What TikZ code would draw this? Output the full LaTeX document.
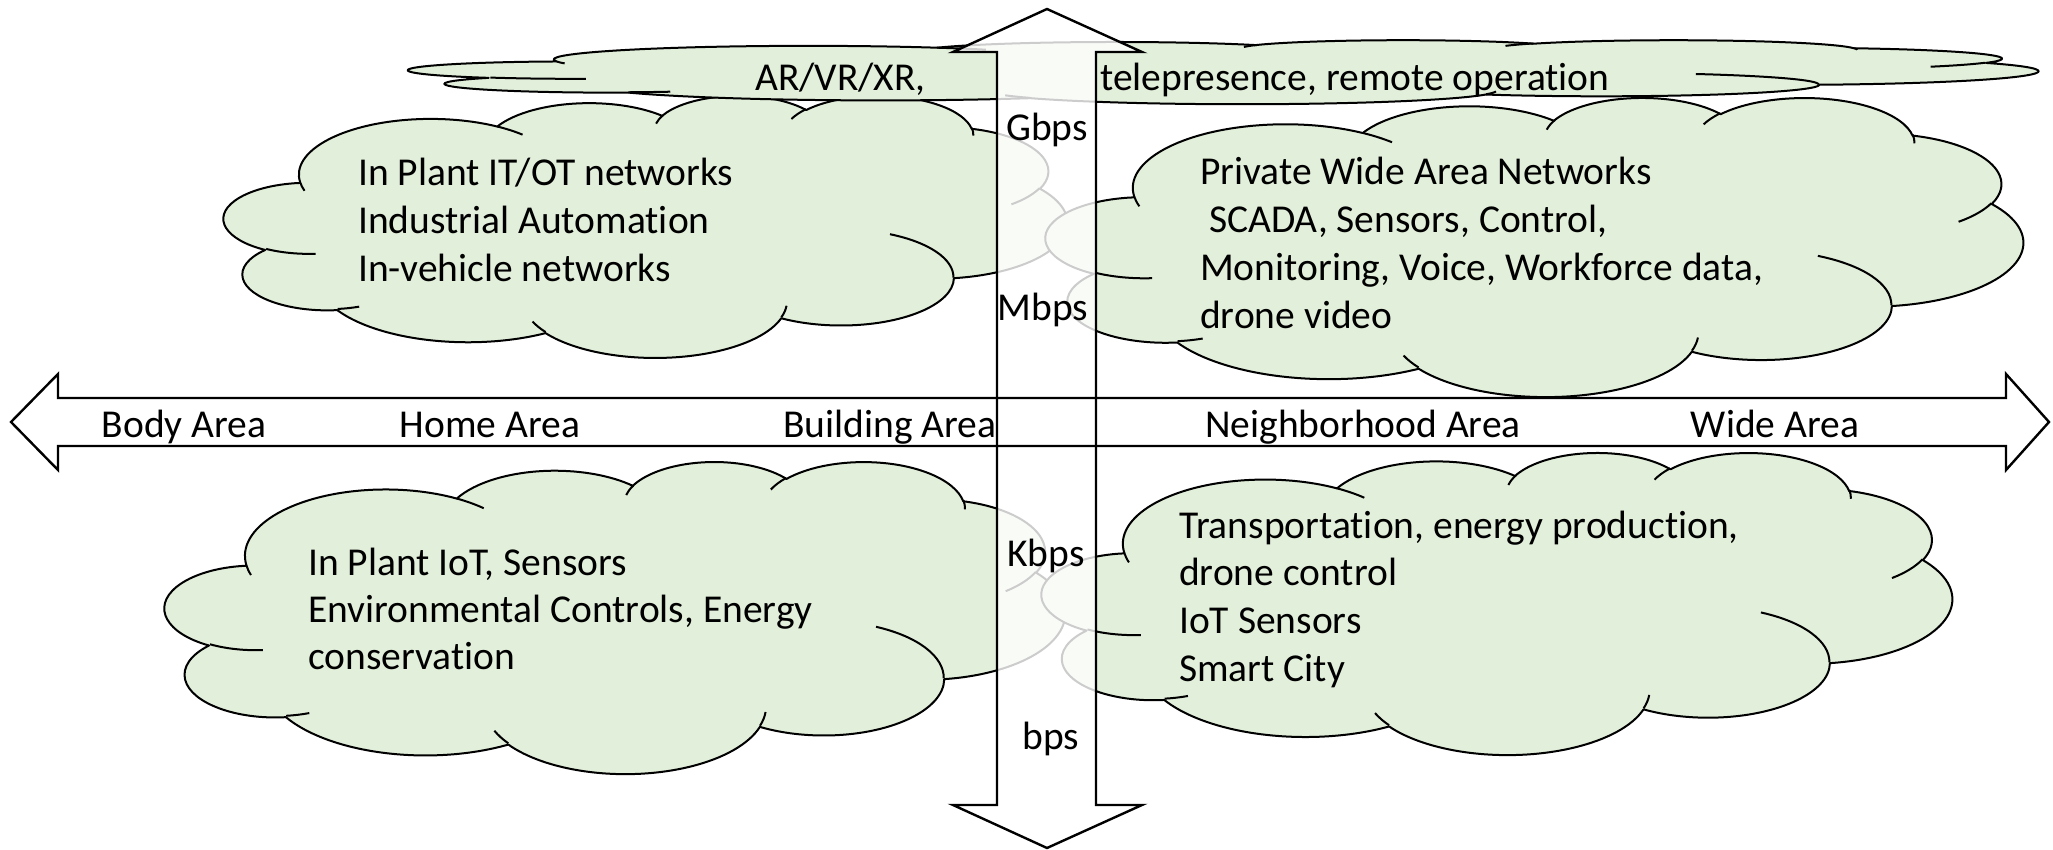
\documentclass[tikz,border=0pt]{standalone}
\usepackage{fontspec}
\setmainfont{Carlito}[Ligatures=NoCommon]
\definecolor{cloudgreen}{RGB}{226,239,218}
\tikzset{
  cloudshape/.style={fill=cloudgreen, draw=black, line width=2pt, line join=round},
  cloudline/.style={draw=black, line width=2pt},
  arrowfill/.style={fill=white, fill opacity=0.8},
  arrowline/.style={draw=black, line width=2.4pt, line join=miter},
  txt/.style={anchor=base west, inner sep=0pt, font=\fontsize{39.5}{47}\selectfont},
  lbl/.style={anchor=base, inner sep=0pt, font=\fontsize{39.5}{47}\selectfont},
}
% ---- PowerPoint-style cloud built from elliptical arcs ----
\newcommand\cldArc[4]{%
  \edef\cldcs{\fpeval{(#3)/60000}}%
  \edef\cldce{\fpeval{((#3)+(#4))/60000}}%
  \edef\cldts{\fpeval{atand((#1)*sind(\cldcs),(#2)*cosd(\cldcs))}}%
  \edef\cldte{\fpeval{atand((#1)*sind(\cldce),(#2)*cosd(\cldce))}}%
  \edef\cldd{\fpeval{\cldte-(\cldts)}}%
  \edef\cldd{\fpeval{round(\cldd-360*round((\cldd-(#4)/60000)/360),4)}}%
  \edef\cldAcc{\unexpanded\expandafter{\cldAcc} arc[start angle=\fpeval{round(0-(\cldts),4)},delta angle=\fpeval{0-(\cldd)},x radius=\fpeval{round((#1)*\cldsx,3)}pt,y radius=\fpeval{round((#2)*\cldsy,3)}pt]}%
}
\newcommand\cldMove[2]{%
  \edef\cldAcc{\unexpanded\expandafter{\cldAcc} (\fpeval{round(\cldxo+(#1)*\cldsx,3)},\fpeval{round(\cldyo+(#2)*\cldsy,3)})}%
}
\newcommand\pptcloud[5]{%
  \edef\cldxo{#2}\edef\cldyo{#3}%
  \edef\cldsx{\fpeval{(#4)/43200}}\edef\cldsy{\fpeval{(#5)/43200}}%
  \def\cldAcc{}%
  \cldMove{3900}{14370}%
  \cldArc{6753}{9190}{-11429249}{7426832}%
  \cldArc{5333}{7267}{-8646143}{5396714}%
  \cldArc{4365}{5945}{-8748475}{5983381}%
  \cldArc{4857}{6595}{-7859164}{7034504}%
  \cldArc{5333}{7273}{-4722533}{6541615}%
  \cldArc{6775}{9220}{-2776035}{7816140}%
  \cldArc{5785}{7867}{37501}{6842000}%
  \cldArc{6752}{9215}{1347096}{6910353}%
  \cldArc{7720}{10543}{3974558}{4542661}%
  \cldArc{4360}{5918}{-16496525}{8804134}%
  \cldArc{4345}{5945}{-14809710}{9151131}%
  \path[cloudshape] \cldAcc -- cycle;
  \def\cldAcc{}%
  \cldMove{4693}{26177}\cldArc{4345}{5945}{5204520}{1585770}%
  \cldMove{6928}{34899}\cldArc{4360}{5918}{4416628}{686848}%
  \cldMove{16478}{39090}\cldArc{6752}{9215}{8257449}{844866}%
  \cldMove{28827}{34751}\cldArc{6752}{9215}{387196}{959901}%
  \cldMove{34129}{22954}\cldArc{5785}{7867}{-4217541}{4255042}%
  \cldMove{41798}{15354}\cldArc{5333}{7273}{1819082}{1665090}%
  \cldMove{38324}{5426}\cldArc{4857}{6595}{-824660}{891534}%
  \cldMove{29078}{3952}\cldArc{4857}{6595}{-8950887}{1091722}%
  \cldMove{22141}{4720}\cldArc{4365}{5945}{-9809656}{1061181}%
  \cldMove{14000}{5192}\cldArc{6753}{9190}{-4002417}{739161}%
  \cldMove{4127}{15789}\cldArc{6753}{9190}{9459261}{711490}%
  \path[cloudline] \cldAcc;
  \coordinate (#1) at (\fpeval{#2+(#4)/2},\fpeval{#3+(#5)/2});
}
\begin{document}
\begin{tikzpicture}[x=1pt,y=-1pt]
\useasboundingbox (0,0) rectangle (2053,850);
% clouds
\pptcloud{cTL}{224}{95}{843}{262}
\pptcloud{cTR}{1046}{97}{977}{299}
\pptcloud{cBL}{165}{461}{900}{312}
\pptcloud{cBR}{1042}{452}{910}{302}
\pptcloud{cTop}{409}{40}{1629}{64}
% arrow fills
\path[arrowfill] (997,52) -- (953,52) -- (1047,9) -- (1142,52) -- (1096,52) -- (1096,805) -- (1142,805) -- (1047,848) -- (953,805) -- (997,805) -- cycle;
\path[arrowfill] (58,398) -- (58,374) -- (11,422) -- (58,470) -- (58,446) -- (2006,446) -- (2006,470) -- (2049,422) -- (2006,374) -- (2006,398) -- cycle;
% arrow outlines
\draw[arrowline] (997,52) -- (953,52) -- (1047,9) -- (1142,52) -- (1096,52) -- (1096,805) -- (1142,805) -- (1047,848) -- (953,805) -- (997,805) -- cycle;
\draw[arrowline] (58,398) -- (58,374) -- (11,422) -- (58,470) -- (58,446) -- (2006,446) -- (2006,470) -- (2049,422) -- (2006,374) -- (2006,398) -- cycle;
% top band texts
\node[txt] (arvr) at (755,91) {AR/VR/XR,};
\node[txt] (tele) at (1100,91) {telepresence, remote operation};
% top-left cloud
\node[txt] (tl1) at (358,186) {In Plant IT/OT networks};
\node[txt] (tl2) at (358,234) {Industrial Automation};
\node[txt] (tl3) at (358,282) {In-vehicle networks};
% top-right cloud
\node[txt] (tr1) at (1200,185) {Private Wide Area Networks};
\node[txt] (tr2) at (1200,233) {\ SCADA, Sensors, Control,};
\node[txt] (tr3) at (1200,280) {Monitoring, Voice, Workforce data,};
\node[txt] (tr4) at (1200,328) {drone video};
% bottom-left cloud
\node[txt] (bl1) at (308,575) {In Plant IoT, Sensors};
\node[txt] (bl2) at (308,622) {Environmental Controls, Energy};
\node[txt] (bl3) at (308,669) {conservation};
% bottom-right cloud
\node[txt] (br1) at (1179,538) {Transportation, energy production,};
\node[txt] (br2) at (1179,585) {drone control};
\node[txt] (br3) at (1179,633) {IoT Sensors};
\node[txt] (br4) at (1179,681) {Smart City};
% horizontal axis labels
\node[lbl] (body) at (184,437) {Body Area};
\node[lbl] (home) at (490,437) {Home Area};
\node[lbl] (bldg) at (890,437) {Building Area};
\node[lbl] (nbhd) at (1363,437) {Neighborhood Area};
\node[lbl] (wide) at (1775,437) {Wide Area};
% vertical axis labels
\node[lbl] (gbps) at (1047,141) {Gbps};
\node[lbl] (mbps) at (1043,320) {Mbps};
\node[lbl] (kbps) at (1046,566) {Kbps};
\node[lbl] (bps) at (1051,749) {bps};
\end{tikzpicture}
\end{document}
